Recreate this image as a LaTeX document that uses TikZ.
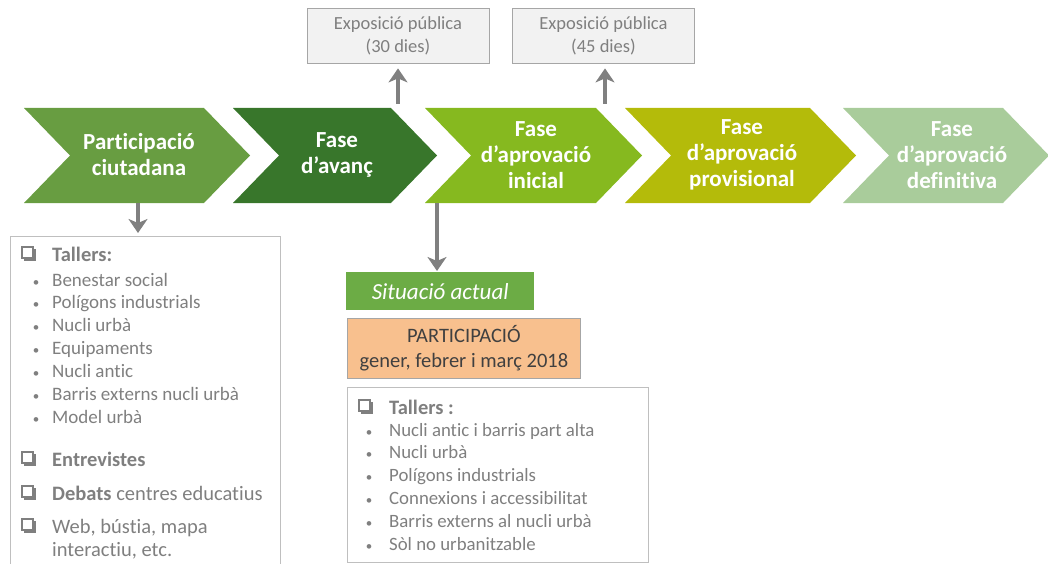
\documentclass[tikz,border=0pt]{standalone}
\usepackage{fontspec}
\setmainfont{Carlito}[Ligatures={NoCommon}]
\usetikzlibrary{arrows.meta}
\definecolor{cA}{HTML}{689D41}
\definecolor{cB}{HTML}{38762B}
\definecolor{cC}{HTML}{86B91F}
\definecolor{cD}{HTML}{B4BB0A}
\definecolor{cE}{HTML}{A9CC9B}
\definecolor{sitg}{HTML}{6CAC45}
\definecolor{peach}{HTML}{F8C08E}
\definecolor{txtg}{HTML}{7F7F7F}
\definecolor{dtxt}{HTML}{404040}
\definecolor{brd}{HTML}{A6A6A6}
\definecolor{brdl}{HTML}{BFBFBF}
\definecolor{arrg}{HTML}{808080}
\newcommand{\chev}[3]{\fill[#3] (#1,108) -- (#2,108) -- (#2+46,155.5) -- (#2,203) -- (#1,203) -- (#1+46,155.5) -- cycle;}
\newcommand{\cbox}[2]{%
  \draw[txtg, line width=1.1pt] (#1,#2) rectangle (#1+11,#2+11);
  \fill[txtg] (#1+2,#2+11) rectangle (#1+13.5,#2+13.5);
  \fill[txtg] (#1+11,#2+2) rectangle (#1+13.5,#2+13.5);}
\tikzset{
  chevtxt/.style={text=white, font=\bfseries\fontsize{23}{26}\selectfont, align=center, inner sep=0},
  expbox/.style={draw=brd, fill=gray!10, line width=0.8pt, minimum width=182, minimum height=55, text=txtg, font=\fontsize{18.5}{23}\selectfont, align=center, inner sep=0},
  arr/.style={draw=arrg, line width=4pt, -{Stealth[width=19pt,length=14pt,inset=4pt]}},
  listbox/.style={draw=brdl, line width=0.8pt, inner sep=0},
  itm/.style={anchor=base west, inner sep=0, text=txtg, font=\fontsize{19}{20}\selectfont},
  itmb/.style={anchor=base west, inner sep=0, text=txtg, font=\fontsize{20.5}{21}\selectfont},
  itmr/.style={anchor=base west, inner sep=0, text=txtg, font=\fontsize{18.8}{20}\selectfont},
  bul/.style={anchor=base, inner sep=0, text=txtg, font=\fontsize{13}{14}\selectfont},
}
\begin{document}
\begin{tikzpicture}[x=1pt,y=-1pt]
\useasboundingbox (0,0) rectangle (1048,564);
% chevrons
\chev{24}{204}{cA}
\chev{233}{391}{cB}
\chev{425}{596}{cC}
\chev{625}{810}{cD}
\chev{843}{1003}{cE}
\node[chevtxt] (p1) at (139,155) {Participació\\ciutadana};
\node[chevtxt] (p2) at (337,155) {Fase\\d’avanç};
\node[chevtxt] (p3) at (536,155) {Fase\\d’aprovació\\inicial};
\node[chevtxt] (p4) at (742,155) {Fase\\d’aprovació\\provisional};
\node[chevtxt] (p5) at (952,155) {Fase\\d’aprovació\\definitiva};
% top boxes
\node[expbox] (e1) at (398,35.5) {Exposició pública\\(30 dies)};
\node[expbox] (e2) at (603.5,35.5) {Exposició pública\\(45 dies)};
\coordinate (u1) at (398,104);
\coordinate (u2) at (605,104);
\draw[arr, shorten >=5pt] (u1) -- (u1 |- e1.south);
\draw[arr, shorten >=5pt] (u2) -- (u2 |- e2.south);
% left list box
\node[listbox, minimum width=270, minimum height=360, anchor=north west] (lb) at (10,236) {};
\coordinate (d1) at (138,203);
\draw[arr, shorten >=3pt] (d1) -- (d1 |- lb.north);
\cbox{22}{247}
\node[itmb] (lt1) at (52,261) {\bfseries Tallers:};
\node[bul] (lb1) at (36,286) {•};
\node[itm] (li1) at (52,286) {Benestar social};
\node[bul] (lb2) at (36,308) {•};
\node[itm] (li2) at (52,308) {Polígons industrials};
\node[bul] (lb3) at (36,331) {•};
\node[itm] (li3) at (52,331) {Nucli urbà};
\node[bul] (lb4) at (36,354) {•};
\node[itm] (li4) at (52,354) {Equipaments};
\node[bul] (lb5) at (36,377) {•};
\node[itm] (li5) at (52,377) {Nucli antic};
\node[bul] (lb6) at (36,400) {•};
\node[itm] (li6) at (52,400) {Barris externs nucli urbà};
\node[bul] (lb7) at (36,423) {•};
\node[itm] (li7) at (52,423) {Model urbà};
\cbox{22}{452}
\node[itmb] (lt2) at (52,466) {\bfseries Entrevistes};
\cbox{22}{486}
\node[itmb] (lt3) at (52,500) {\bfseries Debats\mdseries{} centres educatius};
\cbox{22}{519}
\node[itmb] (lt4) at (52,533) {Web, bústia, mapa};
\node[itmb] (lt5) at (52,556) {interactiu, etc.};
% middle column
\node[fill=sitg, minimum width=188, minimum height=38, anchor=north west, inner sep=0, text=white, font=\itshape\fontsize{23}{26}\selectfont] (sit) at (346,272) {Situació actual};
\coordinate (d3) at (437,203);
\draw[arr, shorten >=1pt] (d3) -- (d3 |- sit.north);
\node[fill=peach, draw=brd, line width=0.8pt, minimum width=233, minimum height=60, anchor=north west, inner sep=0, text=dtxt, align=center, font=\fontsize{20.5}{25}\selectfont] (part) at (347,318) {PARTICIPACIÓ\\gener, febrer i març 2018};
\node[listbox, minimum width=301, minimum height=175, anchor=north west] (rb) at (347,387) {};
\cbox{359}{400}
\node[itmb] (rt1) at (389,414) {\bfseries Tallers :};
\node[bul] (rb1) at (369,436) {•};
\node[itmr] (ri1) at (389,436) {Nucli antic i barris part alta};
\node[bul] (rb2) at (369,458) {•};
\node[itmr] (ri2) at (389,458) {Nucli urbà};
\node[bul] (rb3) at (369,481) {•};
\node[itmr] (ri3) at (389,481) {Polígons industrials};
\node[bul] (rb4) at (369,504) {•};
\node[itmr] (ri4) at (389,504) {Connexions i accessibilitat};
\node[bul] (rb5) at (369,527) {•};
\node[itmr] (ri5) at (389,527) {Barris externs al nucli urbà};
\node[bul] (rb6) at (369,550) {•};
\node[itmr] (ri6) at (389,550) {Sòl no urbanitzable};
\end{tikzpicture}
\end{document}
